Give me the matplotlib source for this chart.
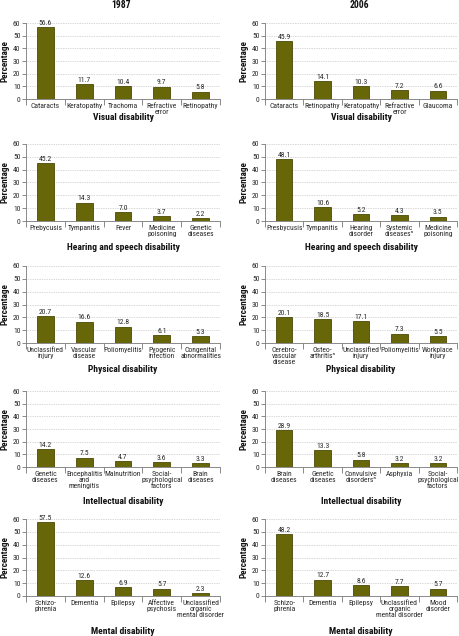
import numpy as np
import matplotlib
matplotlib.use("Agg")
import matplotlib.pyplot as plt
from matplotlib import font_manager as fm

# look for a narrow / condensed face, the reference uses a condensed sans
narrow = None
for key in ['liberationsansnarrow', 'robotocondensed', 'opensanscondensed', 'dejavusanscondensed',
            'narrow', 'condensed']:
    for f in fm.fontManager.ttflist:
        fn = f.fname.lower().replace('-', '').replace('_', '')
        if key in fn:
            narrow = f
            break
    if narrow:
        break

if narrow is not None:
    plt.rcParams['font.family'] = [narrow.name, 'DejaVu Sans']
    plt.rcParams['font.stretch'] = narrow.stretch
    fs = 5.5
else:
    plt.rcParams['font.family'] = ['DejaVu Sans']
    fs = 4.6

years = ["1987", "2006"]
panel_titles = ["Visual disability", "Hearing and speech disability", "Physical disability",
                "Intellectual disability", "Mental disability"]

# 1987
vis87_labels = ["Cataracts", "Keratopathy", "Trachoma", "Refractive\nerror", "Retinopathy"]
vis87_values = [56.6, 11.7, 10.4, 9.7, 5.8]
hear87_labels = ["Prebycusis", "Tympanitis", "Fever", "Medicine\npoisoning", "Genetic\ndiseases"]
hear87_values = [45.2, 14.3, 7.0, 3.7, 2.2]
phys87_labels = ["Unclassified\ninjury", "Vascular\ndisease", "Poliomyelitis", "Pyogenic\ninfection",
                 "Congenital\nabnormalities"]
phys87_values = [20.7, 16.6, 12.8, 6.1, 5.3]
int87_labels = ["Genetic\ndiseases", "Encephalitis\nand\nmeningitis", "Malnutrition",
                "Social-\npsychological\nfactors", "Brain\ndiseases"]
int87_values = [14.2, 7.5, 4.7, 3.6, 3.3]
ment87_labels = ["Schizo-\nphrenia", "Dementia", "Epilepsy", "Affective\npsychosis",
                 "Unclassified\norganic\nmental disorder"]
ment87_values = [57.5, 12.6, 6.9, 5.7, 2.3]

# 2006
vis06_labels = ["Cataracts", "Retinopathy", "Keratopathy", "Refractive\nerror", "Glaucoma"]
vis06_values = [45.9, 14.1, 10.3, 7.2, 6.6]
hear06_labels = ["Presbycusis", "Tympanitis", "Hearing\ndisorder", "Systemic\ndiseases\u1d43",
                 "Medicine\npoisoning"]
hear06_values = [48.1, 10.6, 5.2, 4.3, 3.5]
phys06_labels = ["Cerebro-\nvascular\ndisease", "Osteo-\narthritis\u1d43", "Unclassified\ninjury",
                 "Poliomyelitis", "Workplace\ninjury"]
phys06_values = [20.1, 18.5, 17.1, 7.3, 5.5]
int06_labels = ["Brain\ndiseases", "Genetic\ndiseases", "Convulsive\ndisorders\u1d43", "Asphyxia",
                "Social-\npsychological\nfactors"]
int06_values = [28.9, 13.3, 5.8, 3.2, 3.2]
ment06_labels = ["Schizo-\nphrenia", "Dementia", "Epilepsy", "Unclassified\norganic\nmental disorder",
                 "Mood\ndisorder"]
ment06_values = [48.2, 12.7, 8.6, 7.7, 5.7]

left_col = [(vis87_labels, vis87_values), (hear87_labels, hear87_values), (phys87_labels, phys87_values),
            (int87_labels, int87_values), (ment87_labels, ment87_values)]
right_col = [(vis06_labels, vis06_values), (hear06_labels, hear06_values), (phys06_labels, phys06_values),
             (int06_labels, int06_values), (ment06_labels, ment06_values)]

W, H = 459, 636
fig = plt.figure(figsize=(W / 100, H / 100), dpi=100)
fig.patch.set_facecolor('white')

rows_px = [(23, 99), (144, 221), (266, 343), (391, 467), (519, 596)]
xlab_px = [117, 247, 369, 502, 632]   # centre of each panel's x title
cols_px = [(26, 220), (265, 457)]
ylab_x = [5, 244]
bar_col = '#676608'
grey = '#777777'
txt = '#2a2a2a'

for c, col in enumerate([left_col, right_col]):
    x0, x1 = cols_px[c]
    xc = (x0 + x1) / 2 / W
    fig.text(xc - 2 / W, 1 - 5 / H, years[c], ha='center', va='center', fontsize=fs + 1.4,
             fontweight='bold', color='#111111')
    for r, (labels, values) in enumerate(col):
        t, b = rows_px[r]
        ax = fig.add_axes([x0 / W, 1 - b / H, (x1 - x0) / W, (b - t) / H])
        x = np.arange(len(values))
        ax.bar(x, values, width=0.43, color=bar_col, edgecolor='#4a4904', linewidth=0.6, zorder=3)
        for xi, v in zip(x, values):
            ax.text(xi, v + 1.0, f"{v:.1f}", ha='center', va='bottom', fontsize=fs, color=txt)
        ax.set_xlim(-0.5, len(values) - 0.5)
        ax.set_ylim(0, 60)
        ax.set_yticks(range(0, 61, 10))
        ax.grid(axis='y', linestyle=(0, (1, 1.5)), color='#b0b0b0', linewidth=0.5, zorder=0)
        ax.set_xticks(x)
        ax.set_xticklabels(labels, fontsize=fs, color=txt, linespacing=0.95)
        ax.set_xticks(np.arange(-0.5, len(values)), minor=True)
        ax.tick_params(axis='x', which='major', length=0, pad=3)
        ax.tick_params(axis='x', which='minor', length=4, width=0.6, color=grey, direction='out')
        ax.tick_params(axis='y', length=3, width=0.6, color=grey, labelsize=fs, labelcolor=txt, pad=1)
        for s in ['top', 'right']:
            ax.spines[s].set_visible(False)
        for s in ['left', 'bottom']:
            ax.spines[s].set_color(grey)
            ax.spines[s].set_linewidth(0.6)
        fig.text(ylab_x[c] / W, 1 - (t + b) / 2 / H, "Percentage", rotation=90, ha='center',
                 va='center', fontsize=fs + 1.1, fontweight='bold', color='#111111')
        fig.text(xc, 1 - xlab_px[r] / H, panel_titles[r], ha='center', va='center',
                 fontsize=fs + 1.3, fontweight='bold', color='#111111')

fig.savefig("out.png", dpi=100)
